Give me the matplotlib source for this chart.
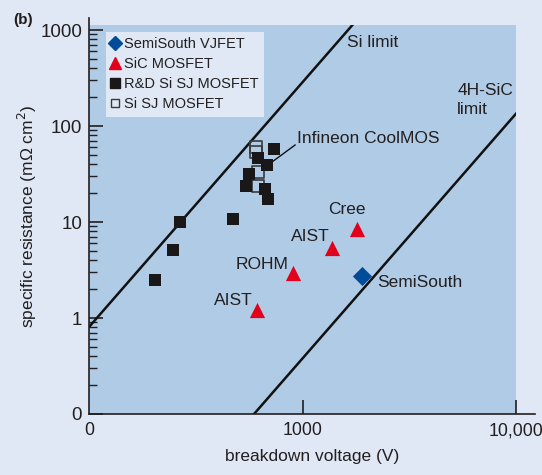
import matplotlib
matplotlib.use("Agg")
import matplotlib.pyplot as plt
import numpy as np
from matplotlib.patches import Rectangle
from matplotlib.lines import Line2D
from matplotlib.ticker import FixedLocator, NullLocator, LogLocator, NullFormatter

plt.rcParams['font.family'] = ['Liberation Sans', 'DejaVu Sans']

# data (V in volts, R in mOhm cm2)
semisouth_v = [1900]
semisouth_r = [2.74]

sic_v = [1800, 1375, 903, 612]
sic_r = [8.45, 5.36, 2.94, 1.21]
sic_names = ['Cree', 'AIST', 'ROHM', 'AIST']

rd_si_v = [204, 247, 267, 472, 544, 562, 618, 682, 735, 667, 689]
rd_si_r = [2.49, 5.1, 10.0, 10.8, 23.7, 31.6, 46, 39, 57.5, 22, 17.4]

si_sj_v = [605, 605, 620, 620]
si_sj_r = [60, 53.6, 33, 23.7]

# limit lines: log10(R) = r0 + slope * (log10(V) - v0)
slope = 2.55
si_limit = (2.0, -0.094)
sic_limit = (2.773, -1.0)

xticks = [100, 1000, 10000]
xticklabels = ['0', '1000', '10,000']
yticks = [0.1, 1, 10, 100, 1000]
yticklabels = ['0', '1', '10', '100', '1000']

bg = '#dfe8f4'
plot_bg = '#b0cbe5'
txt = '#231f20'
red = '#e2001a'
blue = '#004c99'

fig = plt.figure(figsize=(5.42, 4.75), dpi=100, facecolor=bg)
ax = fig.add_axes([89 / 542, 1 - 414 / 475, (535 - 89) / 542, (414 - 18) / 475])
ax.set_facecolor('none')
ax.set_xscale('log')
ax.set_yscale('log')
ax.set_xlim(100, 12270)
ax.set_ylim(0.1, 1334)

rect = Rectangle((100, 0.1), 9900, 1130 - 0.1, facecolor=plot_bg, edgecolor='none', zorder=0)
ax.add_patch(rect)

for sp in ['top', 'right']:
    ax.spines[sp].set_visible(False)
for sp in ['left', 'bottom']:
    ax.spines[sp].set_color(txt)
    ax.spines[sp].set_linewidth(1.2)

# limit lines
vv = np.logspace(2, 4, 200)
for v0, r0 in [si_limit, sic_limit]:
    rr = 10 ** (r0 + slope * (np.log10(vv) - v0))
    ln, = ax.plot(vv, rr, color='#111111', lw=1.8, zorder=2)
    ln.set_clip_path(rect)

# points
ax.scatter(si_sj_v, si_sj_r, marker='s', s=70, facecolor='none', edgecolor='#3a3a3a', linewidth=1.2, zorder=3)
ax.scatter(rd_si_v, rd_si_r, marker='s', s=80, color='#1a1718', linewidth=0, zorder=4)
ax.scatter(sic_v, sic_r, marker='^', s=120, color=red, linewidth=0, zorder=4)
ax.scatter(semisouth_v, semisouth_r, marker='D', s=95, color=blue, linewidth=0, zorder=4)

# labels
fs = 12.5
ax.text(1614, 733, 'Si limit', fontsize=fs, color=txt, va='center', ha='left')
ax.text(5300, 187, '4H-SiC\nlimit', fontsize=fs, color=txt, va='center', ha='left', linespacing=1.3)
ax.text(942, 75, 'Infineon CoolMOS', fontsize=fs, color=txt, va='center', ha='left')
ax.plot([728, 923], [43, 63.4], color='#111111', lw=1)
label_pos = [(1614, 13.6), (1084, 7.14), (646, 3.65), (472, 1.54)]
for name, (lx, ly) in zip(sic_names, label_pos):
    ax.text(lx, ly, name, fontsize=fs, color=txt, va='center', ha='center')
ax.text(2233, 2.32, 'SemiSouth', fontsize=fs, color=txt, va='center', ha='left')

# ticks
ax.xaxis.set_major_locator(FixedLocator(xticks))
ax.set_xticklabels(xticklabels)
ax.xaxis.set_minor_locator(NullLocator())
ax.yaxis.set_major_locator(FixedLocator(yticks))
ax.set_yticklabels(yticklabels)
ax.yaxis.set_minor_locator(LogLocator(base=10, subs=np.arange(2, 10)))
ax.yaxis.set_minor_formatter(NullFormatter())
ax.tick_params(axis='both', which='major', direction='in', length=10, width=1.2,
               labelsize=13.5, colors=txt, pad=5)
ax.tick_params(axis='x', which='major', pad=6, labelsize=12.8)
ax.tick_params(axis='y', which='minor', direction='in', length=6, width=1, colors=txt)
ax.xaxis.get_major_ticks()[0].tick1line.set_visible(False)

ax.set_xlabel('breakdown voltage (V)', fontsize=fs, color=txt, labelpad=7)
ax.set_ylabel('specific resistance (m\u03a9 cm$^2$)', fontsize=fs, color=txt, labelpad=1)

fig.text(13 / 542, 1 - 20 / 475, '(b)', fontsize=11, fontweight='bold', color=txt, va='center')

handles = [
    Line2D([], [], marker='D', ls='none', color=blue, markersize=7),
    Line2D([], [], marker='^', ls='none', color=red, markersize=8),
    Line2D([], [], marker='s', ls='none', color='#1a1718', markersize=7),
    Line2D([], [], marker='s', ls='none', mfc='none', mec='#3a3a3a', markersize=6),
]
labels = ['SemiSouth VJFET', 'SiC MOSFET', 'R&D Si SJ MOSFET', 'Si SJ MOSFET']
leg = fig.legend(handles, labels, loc='upper left', bbox_to_anchor=(106 / 542, 1 - 32 / 475),
                 borderaxespad=0, frameon=True, fancybox=False, fontsize=10.5,
                 handlelength=0.6, handletextpad=0.3, labelspacing=0.42,
                 borderpad=0.35, labelcolor=txt)
leg.get_frame().set_facecolor(bg)
leg.get_frame().set_edgecolor('none')
leg.get_frame().set_alpha(1)

fig.savefig('out.png', dpi=100, facecolor=bg)
